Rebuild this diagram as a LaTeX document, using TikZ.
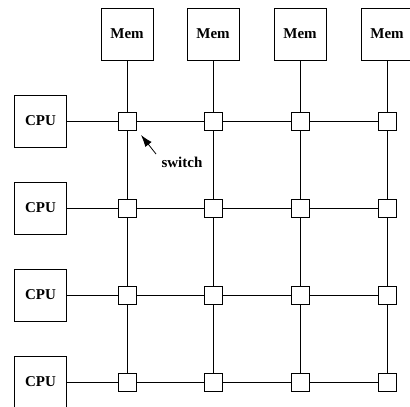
\documentclass[tikz,border=0pt]{standalone}
\usepackage{fontspec}
\setmainfont{Liberation Serif}
\usepackage{pgf, tikz}
\usetikzlibrary{arrows.meta}
\pgfdeclarelayer{edgelayer}
\pgfdeclarelayer{nodelayer}
\pgfsetlayers{edgelayer,nodelayer,main}
\tikzstyle{edge}=[draw=black, line width=0.8pt]
\tikzstyle{unit}=[rectangle, fill=white, draw=black, line width=0.8pt, minimum size=52pt, inner sep=0pt, font=\fontsize{15}{18}\selectfont\bfseries]
\tikzstyle{switchbox}=[rectangle, fill=white, draw=black, line width=0.8pt, minimum size=18pt, inner sep=0pt]

\begin{document}
\begin{tikzpicture}[x=1pt, y=-1pt]
				\useasboundingbox (0, 0) rectangle (410, 407);
				\begin{pgfonlayer}{nodelayer}
					% memories along the top
					\node [style=unit] (m1) at (127, 34) {Mem};
					\node [style=unit] (m2) at (213, 34) {Mem};
					\node [style=unit] (m3) at (300, 34) {Mem};
					\node [style=unit] (m4) at (387, 34) {Mem};
					% processors down the left
					\node [style=unit] (c1) at (40.5, 121) {CPU};
					\node [style=unit] (c2) at (40.5, 208) {CPU};
					\node [style=unit] (c3) at (40.5, 295) {CPU};
					\node [style=unit] (c4) at (40.5, 382) {CPU};
					% crossbar switches
					\node [style=switchbox] (11) at (127, 121) {};
					\node [style=switchbox] (12) at (213, 121) {};
					\node [style=switchbox] (13) at (300, 121) {};
					\node [style=switchbox] (14) at (387, 121) {};
					\node [style=switchbox] (21) at (127, 208) {};
					\node [style=switchbox] (22) at (213, 208) {};
					\node [style=switchbox] (23) at (300, 208) {};
					\node [style=switchbox] (24) at (387, 208) {};
					\node [style=switchbox] (31) at (127, 295) {};
					\node [style=switchbox] (32) at (213, 295) {};
					\node [style=switchbox] (33) at (300, 295) {};
					\node [style=switchbox] (34) at (387, 295) {};
					\node [style=switchbox] (41) at (127, 382) {};
					\node [style=switchbox] (42) at (213, 382) {};
					\node [style=switchbox] (43) at (300, 382) {};
					\node [style=switchbox] (44) at (387, 382) {};
					\node [font=\fontsize{15}{18}\selectfont\bfseries, inner sep=0pt] (sw) at (182, 162) {switch};
					\coordinate (tail) at (156, 154);
					\coordinate (tip) at (141, 135);
				\end{pgfonlayer}
				\begin{pgfonlayer}{edgelayer}
					% rows
					\draw [style=edge] (c1) to (11) to (12) to (13) to (14);
					\draw [style=edge] (c2) to (21) to (22) to (23) to (24);
					\draw [style=edge] (c3) to (31) to (32) to (33) to (34);
					\draw [style=edge] (c4) to (41) to (42) to (43) to (44);
					% columns
					\draw [style=edge] (m1) to (11) to (21) to (31) to (41);
					\draw [style=edge] (m2) to (12) to (22) to (32) to (42);
					\draw [style=edge] (m3) to (13) to (23) to (33) to (43);
					\draw [style=edge] (m4) to (14) to (24) to (34) to (44);
				\end{pgfonlayer}
				\draw [style=edge, -{Latex[length=12pt, width=8pt]}] (tail) to (tip);
			\end{tikzpicture}
\end{document}
